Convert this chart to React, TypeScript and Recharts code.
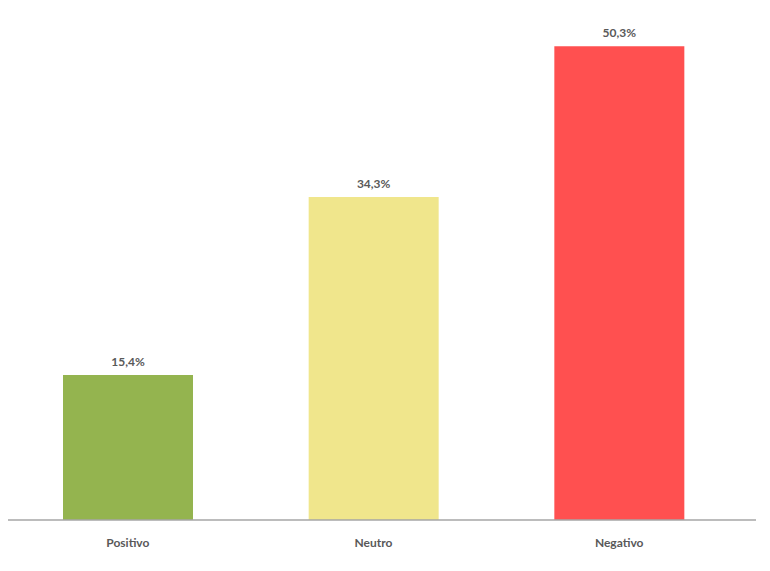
import { BarChart, Bar, XAxis, YAxis, Cell, LabelList } from 'recharts';

const categories = ['Positivo', 'Neutro', 'Negativo'];
const values = [15.4, 34.3, 50.3];
const COLORS = ['#94b44f', '#f0e68c', '#ff5050'];

const data = categories.map((name, i) => ({ name, value: values[i] }));

const fmt = (v: any) => Number(v).toFixed(1).replace('.', ',') + '%';

export default function App() {
  return (
    <div style={{ position: 'absolute', left: 0, top: 0, width: 770, height: 571, background: '#fff', fontFamily: 'Lato, sans-serif' }}>
      <BarChart width={770} height={571} data={data} margin={{ top: 2, right: 14, bottom: 11, left: 8 }}>
        <XAxis
          dataKey="name"
          tickLine={false}
          axisLine={{ stroke: '#a6a6a6', strokeWidth: 1.5 }}
          tick={{ fill: '#595959', fontSize: 12, fontWeight: 700 }}
          tickMargin={12}
          height={40}
          padding={{ left: -3, right: 14 }}
          interval={0}
        />
        <YAxis hide domain={[0, 55]} />
        <Bar dataKey="value" barSize={130} isAnimationActive={false}>
          {data.map((d, i) => (
            <Cell key={d.name} fill={COLORS[i]} />
          ))}
          <LabelList dataKey="value" position="top" offset={9} formatter={fmt} fill="#595959" fontSize={12} fontWeight={700} />
        </Bar>
      </BarChart>
    </div>
  );
}
